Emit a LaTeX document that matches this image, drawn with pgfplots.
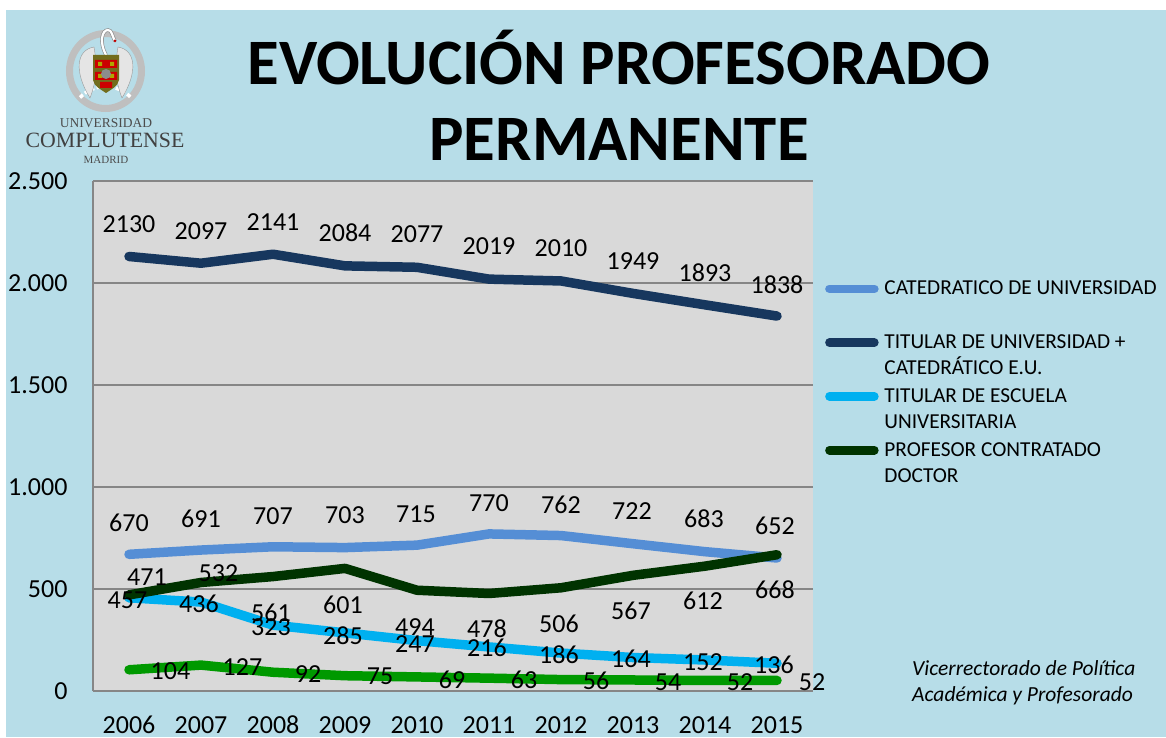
\documentclass[border=0pt]{standalone}
\usepackage{pgfplots}
\usepackage{pgfplotstable}
\usepackage{fontspec}
\pgfplotsset{compat=1.18}
\setmainfont{Carlito}
\newfontfamily\logofont{Liberation Serif}
\definecolor{bgblue}{HTML}{B7DDE8}
\definecolor{plotgray}{HTML}{D9D9D9}
\definecolor{gridgray}{HTML}{868686}
\definecolor{ccat}{HTML}{558ED5}
\definecolor{ctit}{HTML}{17375E}
\definecolor{cesc}{HTML}{00B0F0}
\definecolor{ccon}{HTML}{003300}
\definecolor{cgre}{HTML}{009900}
\pgfplotstableread{
i v dx dy
0 670 0 32
1 691 0 31
2 707 0 31
3 703 0 32
4 715 -1 31
5 770 0 31
6 762 0 31
7 722 -1 33
8 683 -1 33
9 652 -2 32
}\tCat
\pgfplotstableread{
i v dx dy
0 2130 0 32
1 2097 0 32
2 2141 0 32
3 2084 0 33
4 2077 0 33
5 2019 0 33
6 2010 0 33
7 1949 0 32
8 1893 0 32
9 1838 0 31
}\tTit
\pgfplotstableread{
i v dx dy
0 457 -1.5 -2
1 436 -2 -2
2 323 -2 -2
3 285 -2 -3
4 247 -2 -3.5
5 216 -2 -1
6 186 -2 -2
7 164 -2 -1.5
8 152 -2 -2
9 136 -3 -2
}\tEsc
\pgfplotstableread{
i v dx dy
0 471 18 18
1 532 17.5 9.5
2 561 -2 -36
3 601 -2 -36
4 494 -2 -37
5 478 -2 -35.5
6 506 -2 -36
7 567 -2 -35
8 612 -2 -35
9 668 -2 -35
}\tCon
\pgfplotstableread{
i v dx dy
0 104 41.5 -1
1 127 41.5 -2
2 92 35 -2
3 75 35 -1
4 69 35 -3
5 63 35 -2
6 56 35 -1
7 54 35 -2
8 52 35 -2
9 52 35 -2
}\tGre
\pgfplotsset{
  serie/.style={line width=9.5pt, line cap=round, line join=round, no markers},
  lab/.style={draw=none, no markers, forget plot, point meta=y,
    visualization depends on={\thisrow{dx} \as \dx},
    visualization depends on={\thisrow{dy} \as \dy},
    nodes near coords={\pgfmathprintnumber[1000 sep={}]{\pgfplotspointmeta}},
    every node near coord/.style={anchor=center, inner sep=0pt, text=black,
      font=\fontsize{26}{30}\selectfont, xshift=\dx pt, yshift=\dy pt}},
}
\begin{document}
\begin{tikzpicture}[x=1pt,y=1pt]
\useasboundingbox (0,0) rectangle (1166,737);
\fill[white] (0,0) rectangle (1166,737);
\fill[bgblue] (6,0) rectangle (1166,727);
% logo
\begin{scope}[shift={(0,737)},y=-1pt,x=1pt]
\draw[color=black!25,line width=7pt] (105.5,71) ellipse (36 and 37.5);
\draw[white,line width=3.5pt,dash pattern=on 4pt off 2.5pt] (80,97.5) arc[start angle=225,end angle=315,x radius=36,y radius=37.5];
\fill[black!10,draw=black!40] (94,47) .. controls (76,50) and (74,72) .. (90,98) .. controls (97,80) and (97,65) .. (94,47);
\fill[black!10,draw=black!40] (118,47) .. controls (136,50) and (138,72) .. (122,98) .. controls (115,80) and (115,65) .. (118,47);
\draw[black!45,line width=3.5pt] (106,55) .. controls (99,42) and (102,30) .. (108,30) .. controls (112,30) and (112,36) .. (115,41);
\draw[white,line width=2.2pt] (106,55) .. controls (99,42) and (102,30) .. (108,30) .. controls (112,30) and (112,36) .. (115,41);
\fill[red!75!black] (115,41) circle (1.5);
\fill[olive!75!black] (93,55) -- (119,55) -- (119,80) .. controls (118,87) and (110,90) .. (106,93) .. controls (102,90) and (94,87) .. (93,80) -- cycle;
\fill[red!80!black] (95,60) rectangle (117,68) (95,72) rectangle (117,80) (100,82) rectangle (112,88);
\fill[olive!70!yellow] (98,62) rectangle (102,66) (110,62) rectangle (114,66) (98,74) rectangle (102,78) (110,74) rectangle (114,78);
\fill[black!45] (106,74) circle (5);
\node[text=black!70,font=\logofont\fontsize{13.5}{14}\selectfont] at (106,123) {UNIVERSIDAD};
\node[text=black!75,font=\logofont\fontsize{21.8}{24}\selectfont] at (105,140) {COMPLUTENSE};
\node[text=black!70,font=\logofont\fontsize{11}{12}\selectfont] at (106,160) {MADRID};
\end{scope}
\begin{axis}[
  at={(93pt,46pt)}, anchor=south west,
  scale only axis, width=720pt, height=510pt,
  xmin=-0.5, xmax=9.5, ymin=0, ymax=2500,
  axis x line=bottom, axis y line=left,
  axis line style={-, draw=gridgray, line width=1.5pt},
  axis background/.style={fill=plotgray},
  ymajorgrids, grid style={draw=gridgray, line width=1.5pt},
  major tick length=0pt,
  xtick={0,...,9},
  xticklabels={2006,2007,2008,2009,2010,2011,2012,2013,2014,2015},
  ytick={0,500,1000,1500,2000,2500},
  /pgf/number format/assume math mode=true,
  /pgf/number format/1000 sep={.},
  scaled y ticks=false,
  tick label style={font=\fontsize{26}{30}\selectfont, text=black},
  xticklabel style={anchor=center, yshift=-34pt},
  yticklabel style={anchor=east, xshift=-22pt},
  clip=false,
  legend style={at={(1.01,0.808)}, anchor=north west, draw=none, fill=none,
    font=\fontsize{21.3}{26}\selectfont, row sep=34.5pt, inner sep=0pt,
    cells={anchor=base west}},
  legend cell align=left,
  legend image code/.code={\useasboundingbox[draw=none] (0pt,-1pt) rectangle (62pt,1pt);\draw[#1,line width=8.5pt,line cap=round] (9pt,0pt)--(54pt,0pt);},
]
\addplot[serie,color=ccat] table[x=i,y=v]{\tCat};
\addlegendentry{\parbox[t]{290pt}{CATEDRATICO DE UNIVERSIDAD}}
\addplot[serie,color=ctit] table[x=i,y=v]{\tTit};
\addlegendentry{\parbox[t]{290pt}{TITULAR DE UNIVERSIDAD +\\CATEDRÁTICO E.U.}}
\addplot[serie,color=cesc] table[x=i,y=v]{\tEsc};
\addlegendentry{\parbox[t]{290pt}{TITULAR DE ESCUELA\\UNIVERSITARIA}}
\addplot[serie,color=ccon] table[x=i,y=v]{\tCon};
\addlegendentry{\parbox[t]{290pt}{PROFESOR CONTRATADO\\DOCTOR}}
\addplot[serie,color=cgre,forget plot] table[x=i,y=v]{\tGre};
\addplot[lab] table[x=i,y=v]{\tCat};
\addplot[lab] table[x=i,y=v]{\tTit};
\addplot[lab] table[x=i,y=v]{\tCon};
\addplot[lab] table[x=i,y=v]{\tEsc};
\addplot[lab] table[x=i,y=v]{\tGre};
\end{axis}
\node[font=\bfseries\fontsize{64.8}{76}\selectfont,align=center,text=black,inner sep=0pt] at (619,642) {EVOLUCIÓN PROFESORADO\\PERMANENTE};
\node[font=\itshape\fontsize{21.5}{26}\selectfont,align=left,anchor=west,inner sep=0pt,text=black] at (912,54) {Vicerrectorado de Política\\Académica y Profesorado};
\end{tikzpicture}
\end{document}
